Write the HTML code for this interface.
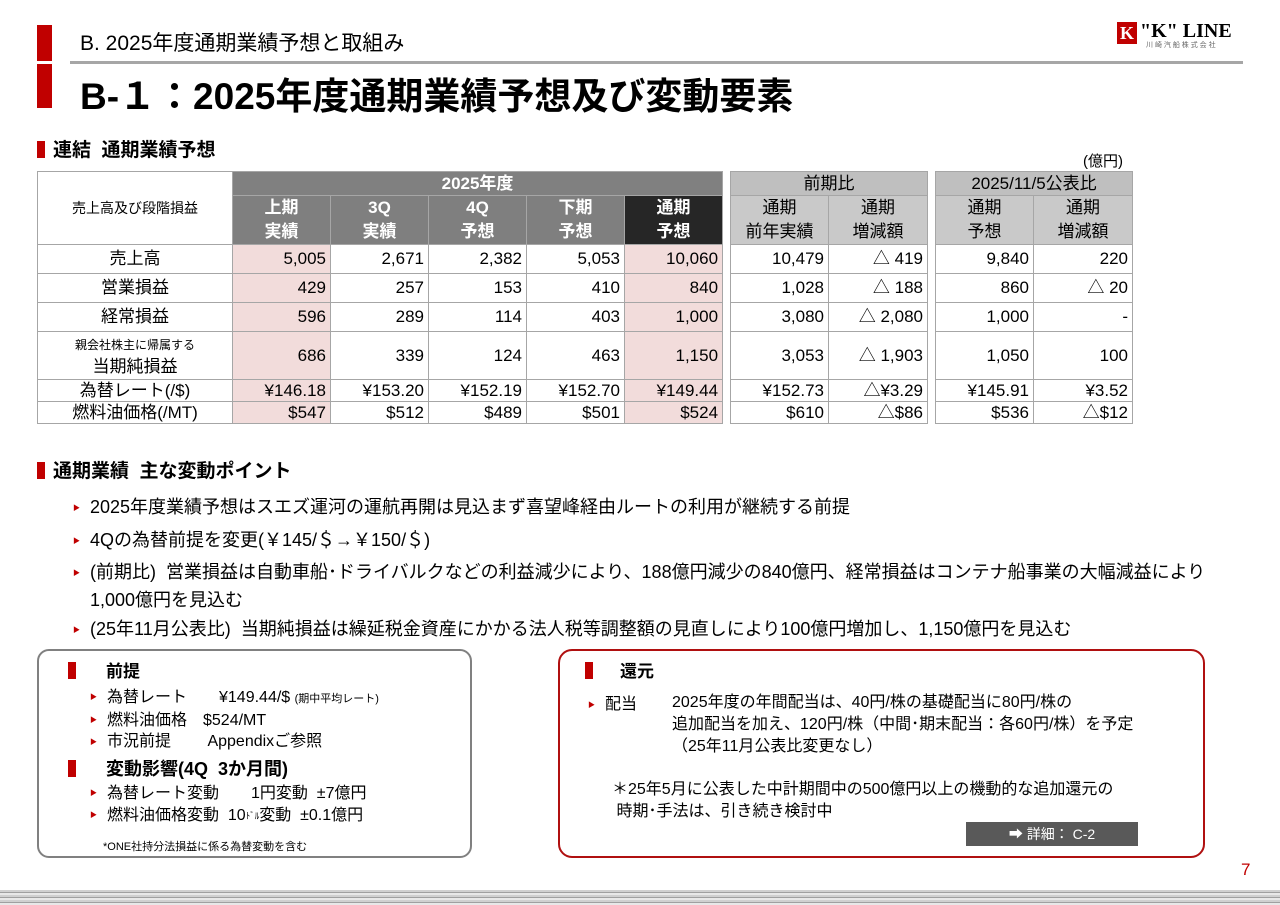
<!DOCTYPE html>
<html><head><meta charset="utf-8"><style>
body{margin:0;width:1280px;height:905px;position:relative;background:#fff;font-family:"Liberation Sans","Noto Sans CJK JP",sans-serif;color:#000;overflow:hidden}
.a{position:absolute;white-space:nowrap}
table{position:absolute;border-collapse:collapse;font-size:17px;table-layout:fixed}
td{border:1px solid #a6a6a6;padding:0 4px;text-align:right;height:28px;line-height:20px}
td.l{text-align:center}
.h1{background:#808080;color:#fff;font-weight:bold;text-align:center}
.h2{background:#7f7f7f;color:#fff;font-weight:bold;text-align:center;line-height:24px}
.hd{background:#262626;color:#fff;font-weight:bold;text-align:center;line-height:24px}
.g1{background:#bfbfbf;text-align:center}
.g2{background:#c9c9c9;text-align:center;line-height:24px}
.p{background:#f2dcdb}
.sq{position:absolute;width:8px;height:17px;background:#c00000}
.b{position:absolute;font-size:18px;line-height:27px}
.tri{color:#c00000;font-size:7px;margin-right:10px;vertical-align:middle}
tr.s td{height:21px;line-height:20px}
</style></head><body>
<div class="a" style="left:37px;top:25px;width:15px;height:36px;background:#c00000"></div>
<div class="a" style="left:37px;top:64px;width:15px;height:44px;background:#c00000"></div>
<div class="a" style="left:80px;top:27px;font-size:21px">B. 2025年度通期業績予想と取組み</div>
<div class="a" style="left:70px;top:61px;width:1173px;height:3px;background:#a6a6a6"></div>
<div class="a" style="left:80px;top:66px;font-size:37px;font-weight:bold">B-１：2025年度通期業績予想及び変動要素</div>
<div class="a" style="left:1117px;top:22px;width:20px;height:22px;background:#c00000;color:#fff;font:bold 18px 'Liberation Serif',serif;text-align:center;line-height:22px">K</div>
<div class="a" style="left:1140px;top:20px;font:bold 20px 'Liberation Serif',serif">"K" LINE</div>
<div class="a" style="left:1146px;top:40px;font-size:7px;color:#666">川 崎 汽 船 株 式 会 社</div>

<div class="sq" style="left:37px;top:141px"></div>
<div class="a" style="left:53px;top:135px;font-size:19px;font-weight:bold">連結&nbsp; 通期業績予想</div>
<div class="a" style="left:1083px;top:150px;font-size:15px">(億円)</div>

<table style="left:37px;top:171px;width:686px">
<colgroup><col style="width:195px"><col style="width:98px"><col style="width:98px"><col style="width:98px"><col style="width:98px"><col style="width:98px"></colgroup>
<tr><td class="l" rowspan="2" style="font-size:14px">売上高及び段階損益</td><td class="h1" colspan="5" style="height:23px">2025年度</td></tr>
<tr><td class="h2" style="height:47px">上期<br>実績</td><td class="h2">3Q<br>実績</td><td class="h2">4Q<br>予想</td><td class="h2">下期<br>予想</td><td class="hd">通期<br>予想</td></tr>
<tr><td class="l">売上高</td><td class="p">5,005</td><td>2,671</td><td>2,382</td><td>5,053</td><td class="p">10,060</td></tr>
<tr><td class="l">営業損益</td><td class="p">429</td><td>257</td><td>153</td><td>410</td><td class="p">840</td></tr>
<tr><td class="l">経常損益</td><td class="p">596</td><td>289</td><td>114</td><td>403</td><td class="p">1,000</td></tr>
<tr><td class="l" style="height:47px;line-height:22px"><span style="font-size:12px">親会社株主に帰属する</span><br>当期純損益</td><td class="p">686</td><td>339</td><td>124</td><td>463</td><td class="p">1,150</td></tr>
<tr class="s"><td class="l">為替レート(/$)</td><td class="p">¥146.18</td><td>¥153.20</td><td>¥152.19</td><td>¥152.70</td><td class="p">¥149.44</td></tr>
<tr class="s"><td class="l">燃料油価格(/MT)</td><td class="p">$547</td><td>$512</td><td>$489</td><td>$501</td><td class="p">$524</td></tr>
</table>

<table style="left:730px;top:171px;width:197px">
<colgroup><col style="width:98px"><col style="width:99px"></colgroup>
<tr><td class="g1" colspan="2" style="height:23px">前期比</td></tr>
<tr><td class="g2" style="height:47px">通期<br>前年実績</td><td class="g2">通期<br>増減額</td></tr>
<tr><td>10,479</td><td>△ 419</td></tr>
<tr><td>1,028</td><td>△ 188</td></tr>
<tr><td>3,080</td><td>△ 2,080</td></tr>
<tr><td style="height:47px">3,053</td><td>△ 1,903</td></tr>
<tr class="s"><td>¥152.73</td><td>△¥3.29</td></tr>
<tr class="s"><td>$610</td><td>△$86</td></tr>
</table>

<table style="left:935px;top:171px;width:197px">
<colgroup><col style="width:98px"><col style="width:99px"></colgroup>
<tr><td class="g1" colspan="2" style="height:23px">2025/11/5公表比</td></tr>
<tr><td class="g2" style="height:47px">通期<br>予想</td><td class="g2">通期<br>増減額</td></tr>
<tr><td>9,840</td><td>220</td></tr>
<tr><td>860</td><td>△ 20</td></tr>
<tr><td>1,000</td><td>-</td></tr>
<tr><td style="height:47px">1,050</td><td>100</td></tr>
<tr class="s"><td>¥145.91</td><td>¥3.52</td></tr>
<tr class="s"><td>$536</td><td>△$12</td></tr>
</table>

<div class="sq" style="left:37px;top:462px"></div>
<div class="a" style="left:53px;top:456px;font-size:19px;font-weight:bold">通期業績&nbsp; 主な変動ポイント</div>
<div class="b" style="left:73px;top:494px"><span class="tri">▶</span>2025年度業績予想はスエズ運河の運航再開は見込まず喜望峰経由ルートの利用が継続する前提</div>
<div class="b" style="left:73px;top:527px"><span class="tri">▶</span>4Qの為替前提を変更(￥145/＄→￥150/＄)</div>
<div class="b" style="left:73px;top:559px"><span class="tri">▶</span>(前期比)&nbsp; 営業損益は自動車船･ドライバルクなどの利益減少により、188億円減少の840億円、経常損益はコンテナ船事業の大幅減益により<br><span style="margin-left:17px">1,000億円を見込む</span></div>
<div class="b" style="left:73px;top:616px"><span class="tri">▶</span>(25年11月公表比)&nbsp; 当期純損益は繰延税金資産にかかる法人税等調整額の見直しにより100億円増加し、1,150億円を見込む</div>

<div class="a" style="left:37px;top:649px;width:435px;height:209px;border:2px solid #808080;border-radius:12px;box-sizing:border-box"></div>
<div class="sq" style="left:68px;top:662px"></div>
<div class="a" style="left:106px;top:657px;font-size:17px;font-weight:bold">前提</div>
<div class="a" style="left:90px;top:687px;font-size:16px;line-height:21px"><span class="tri">▶</span>為替レート　　¥149.44/$ <span style="font-size:11px">(期中平均レート)</span><br><span class="tri">▶</span>燃料油価格　$524/MT<br><span class="tri">▶</span>市況前提　　 Appendixご参照</div>
<div class="sq" style="left:68px;top:760px"></div>
<div class="a" style="left:106px;top:755px;font-size:18px;font-weight:bold">変動影響(4Q&nbsp; 3か月間)</div>
<div class="a" style="left:90px;top:783px;font-size:16px;line-height:22px"><span class="tri">▶</span>為替レート変動　　1円変動&nbsp; ±7億円<br><span class="tri">▶</span>燃料油価格変動&nbsp; 10<span style="font-size:9px;vertical-align:top">ﾄﾞﾙ</span>変動&nbsp; ±0.1億円</div>
<div class="a" style="left:103px;top:838px;font-size:11px">*ONE社持分法損益に係る為替変動を含む</div>

<div class="a" style="left:558px;top:649px;width:647px;height:209px;border:2px solid #b01010;border-radius:14px;box-sizing:border-box"></div>
<div class="sq" style="left:585px;top:662px"></div>
<div class="a" style="left:620px;top:657px;font-size:17px;font-weight:bold">還元</div>
<div class="a" style="left:588px;top:690px;font-size:16px"><span class="tri">▶</span>配当</div>
<div class="a" style="left:672px;top:692px;font-size:16px;line-height:22px">2025年度の年間配当は、40円/株の基礎配当に80円/株の<br>追加配当を加え、120円/株（中間･期末配当：各60円/株）を予定<br>（25年11月公表比変更なし）</div>
<div class="a" style="left:612px;top:779px;font-size:16px;line-height:22px">＊25年5月に公表した中計期間中の500億円以上の機動的な追加還元の<br>&nbsp;時期･手法は、引き続き検討中</div>
<div class="a" style="left:966px;top:822px;width:172px;height:24px;background:#595959;color:#fff;font-size:14px;text-align:center;line-height:24px">➡ 詳細： C-2</div>

<div class="a" style="left:1241px;top:860px;font-size:17px;color:#c00000">7</div>
<div class="a" style="left:0;top:890px;width:1280px;height:15px;background:repeating-linear-gradient(#d0d0d0 0 2px,#a0a0a0 2px 3px,#e8e8e8 3px 5px)"></div>
</body></html>
